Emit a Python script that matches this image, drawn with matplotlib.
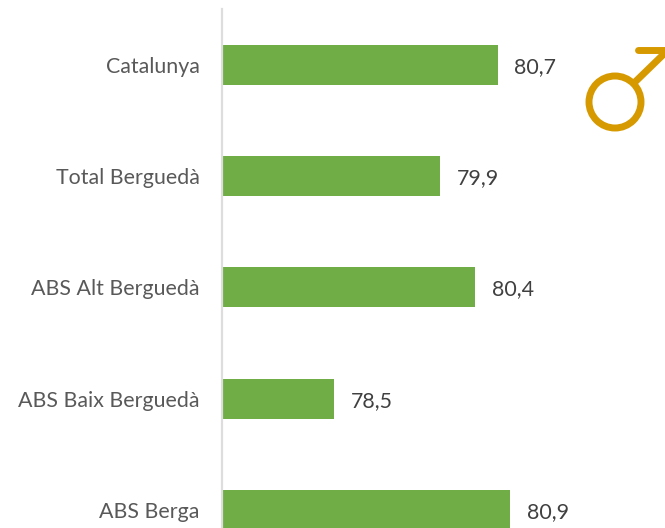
""" Esperanca de vida, homes - barres horitzontals """

import matplotlib
matplotlib.use('Agg')
import matplotlib.pyplot as plt
from matplotlib.patches import Circle

## Data

categories = ['Catalunya', 'Total Berguedà', 'ABS Alt Berguedà', 'ABS Baix Berguedà', 'ABS Berga']
values = [80.7, 79.93, 80.4, 78.5, 80.87]
value_labels = ['80,7', '79,9', '80,4', '78,5', '80,9']

## Style

W, H = 665, 528
GREEN = '#70AD47'
GOLD = '#D69A00'
TEXT = '#404040'
CAT_TEXT = '#595959'

plt.rcParams['font.family'] = ['Lato', 'DejaVu Sans']

fig = plt.figure(figsize=(W / 100, H / 100), dpi=100)

# -- Bars: axis starts at 77 and one unit is about 74.5 px

ax = fig.add_axes([222 / W, 0, (W - 222) / W, 519 / H])
y = range(len(categories))
ax.barh(y, values, height=40 / 111.5, color=GREEN, left=0)
ax.set_xlim(77, 77 + (W - 222) / 74.5)
ax.set_ylim(4 + 18 / 111.5, -0.5)

for side in ['top', 'right', 'bottom']:
    ax.spines[side].set_visible(False)
ax.spines['left'].set_color('#DDDDDD')
ax.spines['left'].set_linewidth(1.6)

ax.set_xticks([])
ax.set_yticks(list(y))
ax.set_yticklabels(categories, fontsize=15.4, color=CAT_TEXT)
ax.tick_params(axis='y', length=0, pad=16)

for i, (v, lab) in enumerate(zip(values, value_labels)):
    ax.annotate(lab, (v, i), xytext=(12, -1.5), textcoords='offset points',
                va='center', ha='left', fontsize=15.4, color=TEXT)

# -- Male symbol drawn in pixel coordinates over the chart

ov = fig.add_axes([0, 0, 1, 1], facecolor='none')
ov.set_xlim(0, W)
ov.set_ylim(H, 0)
ov.axis('off')
ov.add_patch(Circle((615, 102), 26, fill=False, edgecolor=GOLD, linewidth=5))
ov.plot([634, 668], [83, 50], color=GOLD, linewidth=5, solid_capstyle='butt')
ov.plot([638, 668], [50, 50], color=GOLD, linewidth=5, solid_capstyle='round')
ov.plot([667, 667], [50, 80], color=GOLD, linewidth=5, solid_capstyle='butt')

plt.savefig('out.png', dpi=100)
